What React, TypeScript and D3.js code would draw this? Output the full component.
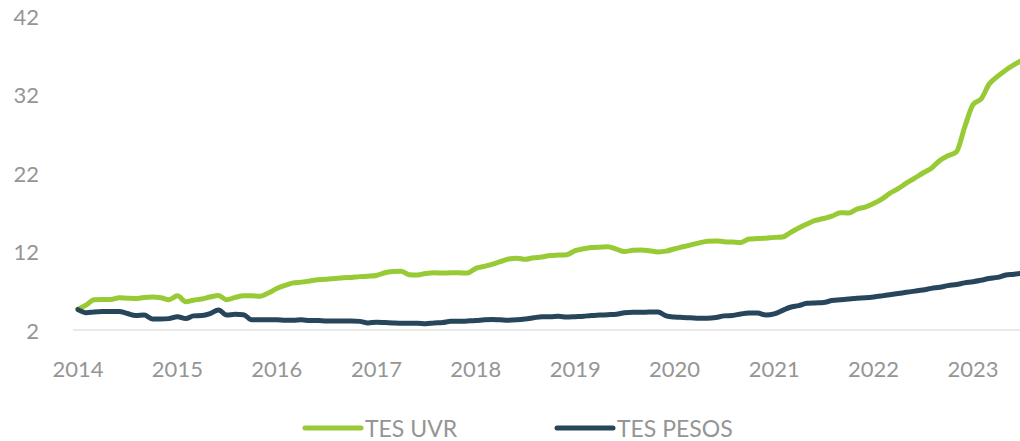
import React from "react";
import * as d3 from "d3";

const startYear = 2014;
const yearTicks = [2014, 2015, 2016, 2017, 2018, 2019, 2020, 2021, 2022, 2023];
const yTicks = [2, 12, 22, 32, 42];
const seriesNames = ["TES UVR", "TES PESOS"];
const seriesColors = ["#98ca36", "#27465c"];

// monthly values, Jan 2014 .. Jul 2023
const tesUvr = [
  4.65, 5.2, 5.85, 5.9, 5.9, 6.1, 6.05, 6.0, 6.15, 6.2, 6.1, 5.85,
  6.35, 5.6, 5.8, 5.95, 6.2, 6.4, 5.85, 6.15, 6.35, 6.35, 6.3, 6.7,
  7.3, 7.7, 8.0, 8.1, 8.25, 8.4, 8.45, 8.55, 8.65, 8.7, 8.8, 8.85,
  8.95, 9.3, 9.45, 9.5, 9.05, 9.0, 9.2, 9.3, 9.25, 9.3, 9.3, 9.25,
  9.85, 10.1, 10.35, 10.7, 11.05, 11.15, 11.0, 11.2, 11.3, 11.5, 11.55, 11.6,
  12.1, 12.35, 12.5, 12.55, 12.6, 12.3, 12.0, 12.15, 12.2, 12.1, 11.95, 12.05,
  12.35, 12.6, 12.85, 13.1, 13.3, 13.35, 13.25, 13.2, 13.15, 13.6, 13.65, 13.7,
  13.8, 13.85, 14.4, 15.0, 15.5, 15.95, 16.2, 16.5, 16.95, 16.9, 17.4, 17.65,
  18.1, 18.7, 19.4, 20.0, 20.7, 21.35, 22.0, 22.6, 23.6, 24.2, 24.7, 27.8,
  30.7, 31.5, 33.3, 34.3, 35.1, 35.8, 36.4,
];
const tesPesos = [
  4.6, 4.2, 4.3, 4.35, 4.35, 4.35, 4.1, 3.85, 3.9, 3.4, 3.4, 3.45,
  3.7, 3.45, 3.8, 3.85, 4.1, 4.55, 3.9, 4.0, 3.95, 3.3, 3.3, 3.3,
  3.3, 3.25, 3.25, 3.3, 3.2, 3.2, 3.15, 3.15, 3.15, 3.15, 3.1, 2.9,
  3.0, 2.95, 2.9, 2.85, 2.85, 2.85, 2.8, 2.9, 2.95, 3.1, 3.1, 3.15,
  3.2, 3.3, 3.35, 3.3, 3.25, 3.3, 3.4, 3.55, 3.7, 3.7, 3.75, 3.65,
  3.7, 3.75, 3.85, 3.9, 3.95, 4.0, 4.2, 4.25, 4.25, 4.3, 4.3, 3.8,
  3.65, 3.6, 3.55, 3.5, 3.5, 3.6, 3.8, 3.85, 4.05, 4.15, 4.15, 3.9,
  4.05, 4.5, 4.9, 5.1, 5.4, 5.45, 5.5, 5.75, 5.85, 5.95, 6.05, 6.1,
  6.2, 6.35, 6.5, 6.65, 6.8, 6.95, 7.1, 7.3, 7.45, 7.65, 7.8, 8.0,
  8.15, 8.35, 8.55, 8.7, 9.0, 9.1, 9.25,
];

const W = 1020;
const H = 441;
const FONT = "Lato, 'Open Sans', sans-serif";

export default function App() {
  const x = d3
    .scaleTime()
    .domain([new Date(2014, 0, 1), new Date(2023, 6, 1)])
    .range([78, 78 + (99.4 / 12) * 114]);
  const y = d3.scaleLinear().domain([2, 42]).range([330, 16]);

  const dateOf = (i: number) => new Date(startYear, i, 1);
  const line = d3
    .line<number>()
    .x((_, i) => x(dateOf(i)))
    .y((v) => y(v))
    .curve(d3.curveMonotoneX);

  const all = [tesUvr, tesPesos];

  return (
    <svg
      width={W}
      height={H}
      style={{ position: "absolute", left: 0, top: 0, background: "#fff" }}
      fontFamily={FONT}
    >
      <defs>
        <clipPath id="plotclip">
          <rect x={0} y={0} width={W} height={H} />
        </clipPath>
      </defs>
      {yTicks.map((t) => (
        <text
          key={t}
          x={39}
          y={y(t)}
          textAnchor="end"
          dominantBaseline="central"
          fontSize={22}
          fill="#959595"
        >
          {t}
        </text>
      ))}
      <line x1={73} x2={W} y1={y(2)} y2={y(2)} stroke="#e2e2e2" strokeWidth={1.5} />
      {yearTicks.map((yr) => (
        <text
          key={yr}
          x={x(new Date(yr, 0, 1))}
          y={377}
          textAnchor="middle"
          fontSize={22}
          fill="#959595"
        >
          {yr}
        </text>
      ))}
      <g clipPath="url(#plotclip)">
        {all.map((s, k) => (
          <path
            key={k}
            d={line(s) || ""}
            fill="none"
            stroke={seriesColors[k]}
            strokeWidth={5}
            strokeLinecap="round"
            strokeLinejoin="round"
          />
        ))}
      </g>
      {seriesNames.map((n, k) => {
        const lx = k === 0 ? 305 : 557;
        return (
          <g key={n}>
            <line
              x1={lx}
              x2={lx + 56}
              y1={428}
              y2={428}
              stroke={seriesColors[k]}
              strokeWidth={5}
              strokeLinecap="round"
            />
            <text x={lx + 60} y={436.5} fontSize={23} fill="#959595">
              {n}
            </text>
          </g>
        );
      })}
    </svg>
  );
}
